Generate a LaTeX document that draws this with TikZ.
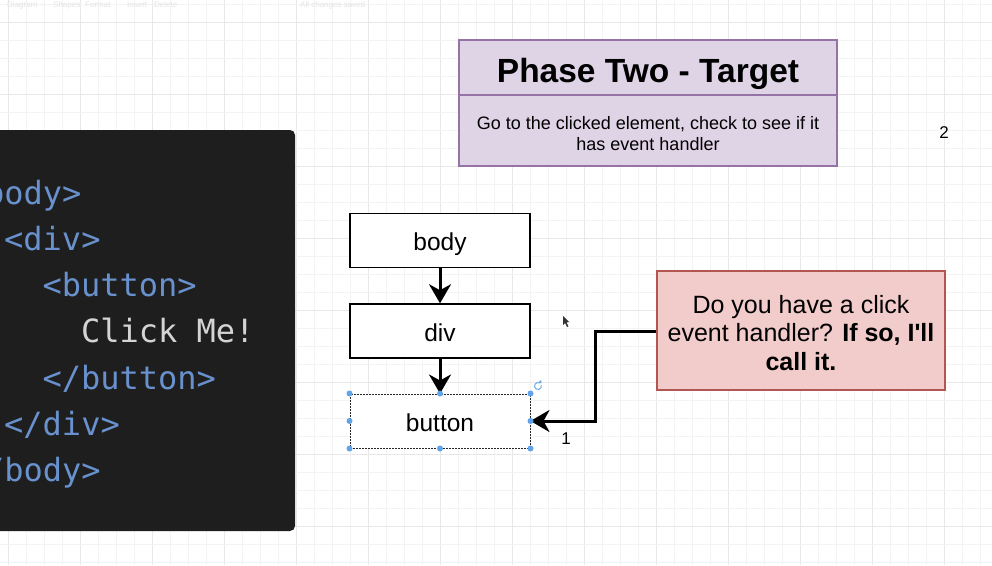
\documentclass[tikz,border=0pt]{standalone}
\usepackage{fontspec}
\setmainfont{Liberation Sans}[Ligatures=TeXOff]
\newfontfamily\codefont{DejaVu Sans Mono}
\usetikzlibrary{arrows.meta}
\definecolor{gridminor}{RGB}{243,243,243}
\definecolor{gridmajor}{RGB}{232,232,232}
\definecolor{panelbg}{RGB}{30,30,30}
\definecolor{codeblue}{RGB}{104,145,205}
\definecolor{codegray}{RGB}{212,212,212}
\definecolor{purplefill}{RGB}{223,211,230}
\definecolor{purpleline}{RGB}{150,115,166}
\definecolor{redfill}{RGB}{242,204,203}
\definecolor{redline}{RGB}{178,86,82}
\definecolor{handleblue}{RGB}{96,163,232}
\definecolor{toolgray}{RGB}{228,228,228}
\tikzset{
  minorline/.style={gridminor, line width=0.8pt},
  majorline/.style={gridmajor, line width=1pt},
  codeline/.style={anchor=base west, inner sep=0pt, font=\codefont\fontsize{32}{38}\selectfont},
  elembox/.style={draw=black, line width=1.5pt, fill=white, minimum width=180pt, minimum height=54pt, inner sep=0pt, text height=20pt, text depth=0pt, font=\fontsize{24.5}{29}\selectfont},
  flowarrow/.style={line width=3pt, -{Stealth[length=19pt, width=22pt, inset=6pt]}},
  handle/.style={circle, fill=handleblue, inner sep=0pt, minimum size=6pt},
  toolbar/.style={anchor=base west, inner sep=0pt, text=toolgray, font=\fontsize{8}{9}\selectfont},
  numlabel/.style={inner sep=0pt, font=\fontsize{17}{20}\selectfont}
}
\begin{document}
\begin{tikzpicture}[x=1pt, y=-1pt]
\useasboundingbox (0,0) rectangle (992,565);
\fill[white] (0,0) rectangle (992,565);
% grid
\foreach \i in {0,...,55} {
  \pgfmathtruncatemacro{\m}{mod(\i,4)}
  \ifnum\m=0
    \draw[majorline] ({8+18*\i},0) -- ({8+18*\i},565);
  \else
    \draw[minorline] ({8+18*\i},0) -- ({8+18*\i},565);
  \fi
}
\foreach \j in {0,...,31} {
  \pgfmathtruncatemacro{\m}{mod(\j,4)}
  \ifnum\m=1
    \draw[majorline] (0,{4+18*\j}) -- (992,{4+18*\j});
  \else
    \draw[minorline] (0,{4+18*\j}) -- (992,{4+18*\j});
  \fi
}
% faint toolbar
\node[toolbar] (tb1) at (7,7) {Diagram \,\raisebox{1pt}{$\scriptscriptstyle\vee$}};
\node[toolbar] (tb2) at (53,7) {Shapes};
\node[toolbar] (tb3) at (85,7) {Format};
\node[toolbar] (tb4) at (127,7) {Insert};
\node[toolbar] (tb5) at (154,7) {Delete};
\node[toolbar] (tb6) at (300,7) {All changes saved};
% code panel
\fill[panelbg, rounded corners=5pt] (-20,130) rectangle (295,531);
\node[codeline, text=codeblue] (c1) at (-34.4,204) {<body>};
\node[codeline, text=codeblue] (c2) at (4,250.3) {<div>};
\node[codeline, text=codeblue] (c3) at (42.4,296.6) {<button>};
\node[codeline, text=codegray] (c4) at (80.8,342.9) {Click Me!};
\node[codeline, text=codeblue] (c5) at (42.4,389.2) {</button>};
\node[codeline, text=codeblue] (c6) at (4,435.5) {</div>};
\node[codeline, text=codeblue] (c7) at (-34.4,481.8) {</body>};
% purple box
\draw[purpleline, fill=purplefill, line width=2pt] (459,40) rectangle (837,166);
\draw[purpleline, line width=2pt] (459,95) -- (837,95);
\node[inner sep=0pt, anchor=base, font=\bfseries\fontsize{33.5}{38}\selectfont] (title) at (648,82) {Phase Two - Target};
\node[inner sep=0pt, align=center, font=\fontsize{18}{21}\selectfont] (desc) at (648,134) {Go to the clicked element, check to see if it\\has event handler};
\node[numlabel] (two) at (944,133) {2};
% element boxes
\node[elembox] (body) at (440,240.5) {body};
\node[elembox] (div) at (440,331) {div};
\node[elembox, draw=black!85, line width=1pt, dash pattern=on 2pt off 1pt] (btn) at (440,421) {button};
\draw[flowarrow] (body.south) -- (div.north);
\draw[flowarrow] (div.south) -- (btn.north);
% red box
\node[draw=redline, fill=redfill, line width=1.8pt, minimum width=288pt, minimum height=119pt, inner sep=0pt] (ask) at (801,330.5) {};
\node[inner sep=0pt, align=center, font=\fontsize{25}{28.5}\selectfont] (asktext) at (801,333) {Do you have a click\\event handler? \textbf{If so, I'll}\\\textbf{call it.}};
\coordinate (bend) at (595,331);
\draw[flowarrow] (ask.west |- bend) -- (bend) |- (btn.east);
\node[numlabel] (one) at (566,439) {1};
% selection handles
\foreach \a in {north west, north, north east, west, east, south west, south, south east} {
  \node[handle] at (btn.\a) {};
}
\coordinate (rot) at (538,386);
\draw[handleblue, line width=0.9pt] ([shift={(60:3.5pt)}]rot) arc[start angle=60, end angle=380, radius=3.5pt];
\fill[handleblue] ([shift={(0.5,-3.8)}]rot) -- ++(2.5,-2) -- ++(0.5,3.2) -- cycle;
% mouse cursor
\fill[black!80] (563,316) -- (563,325) -- (565,323) -- (567,327) -- (568.5,326.3) -- (566.5,322.5) -- (569,322) -- cycle;
\end{tikzpicture}
\end{document}
